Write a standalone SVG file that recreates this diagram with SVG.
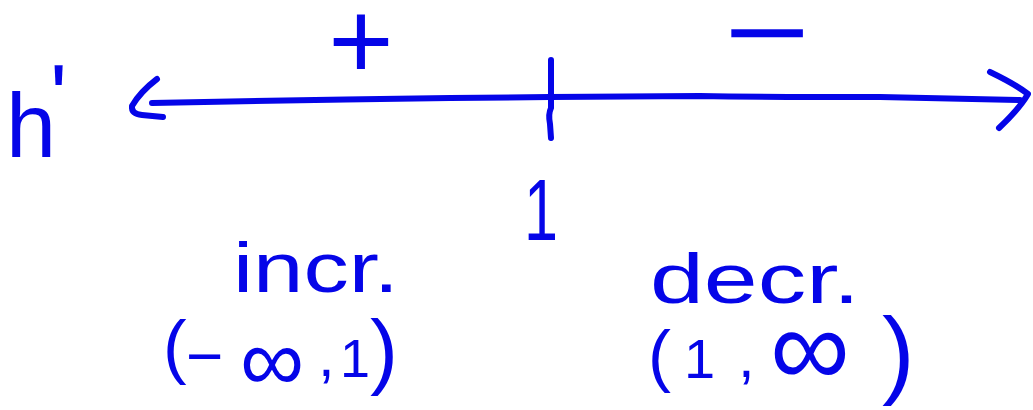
<svg xmlns="http://www.w3.org/2000/svg" width="1033" height="410" viewBox="0 0 1033 410">
<style>
.ink{fill:none;stroke:#0505e8;stroke-width:6;stroke-linecap:round;stroke-linejoin:round}
.t{fill:#0505e8;font-family:"Liberation Sans",Arial,sans-serif}
</style>
<rect width="1033" height="410" fill="#ffffff"/>
<g id="connectors">
<path class="ink" d="M152,103 C260,101 350,99 450,98 L550,97 L700,96 C760,97 820,97 880,97 L1020,100"/>
<path class="ink" d="M157,79 Q140,92 132,106 Q131,114 142,115 L163,117"/>
<path class="ink" d="M990,72 Q1015,84 1028,94 Q1020,108 999,128"/>
<path class="ink" d="M551,60 L551,108 Q548,114 550,124 L551,138"/>
</g>
<g id="label-h">
<text class="t" font-size="90"><tspan x="6" y="157">h</tspan><tspan x="50" y="128">'</tspan></text>
</g>
<g id="label-plus"><text class="t" font-size="112" x="361" y="79" text-anchor="middle">+</text></g>
<g id="label-minus"><text class="t" font-size="110" x="724" y="70" textLength="86" lengthAdjust="spacingAndGlyphs">−</text></g>
<g id="label-one"><text class="t" font-size="88" x="541" y="240" text-anchor="middle" textLength="34" lengthAdjust="spacingAndGlyphs">1</text></g>
<g id="label-incr"><text class="t" font-size="70" x="233" y="292" textLength="166" lengthAdjust="spacingAndGlyphs">incr.</text></g>
<g id="label-decr"><text class="t" font-size="70" x="650" y="303" textLength="210" lengthAdjust="spacingAndGlyphs">decr.</text></g>
<g id="interval-left">
<text class="t"><tspan x="163" y="370" font-size="71">(</tspan><tspan x="186" y="378" font-size="64">−</tspan><tspan x="240" y="391" font-size="90">∞</tspan><tspan x="318" y="376" font-size="60">,</tspan><tspan x="340" y="377" font-size="54">1</tspan><tspan x="370" y="379" font-size="84">)</tspan></text>
</g>
<g id="interval-right">
<text class="t"><tspan x="648" y="379" font-size="69">(</tspan><tspan x="684" y="378" font-size="56">1</tspan><tspan x="738" y="377" font-size="60">,</tspan><tspan x="770" y="386" font-size="112">∞</tspan><tspan x="882" y="386" font-size="98">)</tspan></text>
</g>
</svg>
